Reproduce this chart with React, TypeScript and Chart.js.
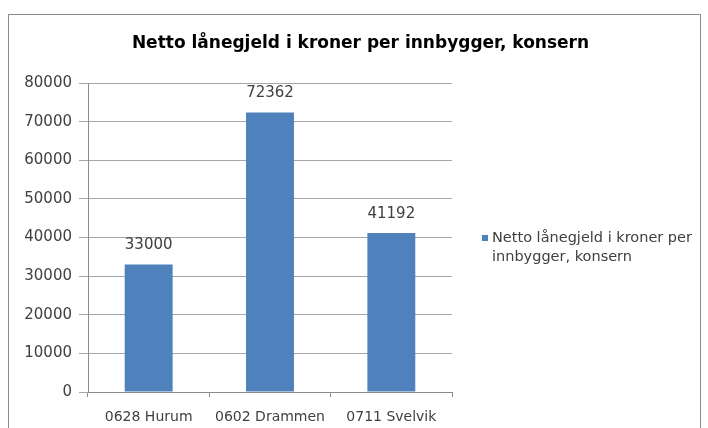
import React, { useEffect, useRef } from "react";
import { Chart, registerables } from "chart.js";

Chart.register(...registerables);

const categories: string[] = ["0628 Hurum", "0602 Drammen", "0711 Svelvik"];
const seriesName = "Netto lånegjeld i kroner per innbygger, konsern";
const values: number[] = [33000, 72362, 41192];
const legendLines: string[] = ["Netto lånegjeld i kroner per", "innbygger, konsern"];
const titleText = "Netto lånegjeld i kroner per innbygger, konsern";

const FONT = "'DejaVu Sans', sans-serif";
const BAR_COLOR = "#4F81BD";
const TEXT_COLOR = "#404040";

const decorPlugin = {
  id: "decor",
  beforeDraw(chart: any) {
    const ctx = chart.ctx;
    ctx.save();
    ctx.fillStyle = "#ffffff";
    ctx.fillRect(0, 0, chart.width, chart.height);
    ctx.strokeStyle = "#8c8c8c";
    ctx.lineWidth = 1;
    ctx.strokeRect(8.5, 14.5, 692, 430);
    ctx.restore();
  },
  afterDraw(chart: any) {
    const ctx = chart.ctx;
    ctx.save();
    // title
    ctx.fillStyle = "#000000";
    ctx.font = `bold 17px ${FONT}`;
    ctx.textAlign = "center";
    ctx.textBaseline = "middle";
    ctx.fillText(titleText, 360.5, 44);
    // data labels
    const meta = chart.getDatasetMeta(0);
    ctx.font = `15px ${FONT}`;
    ctx.fillStyle = TEXT_COLOR;
    ctx.textBaseline = "middle";
    meta.data.forEach((bar: any, i: number) => {
      ctx.fillText(String(values[i]), bar.x, bar.y - 19);
    });
    // legend
    ctx.fillStyle = BAR_COLOR;
    ctx.fillRect(482, 235, 6, 6);
    ctx.fillStyle = TEXT_COLOR;
    ctx.font = `14.5px ${FONT}`;
    ctx.textAlign = "left";
    ctx.textBaseline = "alphabetic";
    legendLines.forEach((line, i) => {
      ctx.fillText(line, 492, 242 + i * 19);
    });
    ctx.restore();
  },
};

export default function App() {
  const ref = useRef<HTMLCanvasElement | null>(null);
  useEffect(() => {
    if (!ref.current) return;
    const chart = new Chart(ref.current, {
      type: "bar",
      data: {
        labels: categories,
        datasets: [
          {
            label: seriesName,
            data: values,
            backgroundColor: BAR_COLOR,
            barPercentage: 0.79,
            categoryPercentage: 0.5,
          },
        ],
      },
      options: {
        responsive: false,
        animation: false,
        layout: { padding: { left: 0, top: 83, right: 256, bottom: 0 } },
        plugins: {
          legend: { display: false },
          title: { display: false },
          tooltip: { enabled: false },
        },
        scales: {
          x: {
            afterFit: (s: any) => {
              s.height = 36;
            },
            grid: {
              display: true,
              offset: true,
              drawOnChartArea: false,
              drawTicks: true,
              tickLength: 5,
              color: "#8c8c8c",
            },
            border: { display: true, color: "#8c8c8c" },
            ticks: {
              color: TEXT_COLOR,
              font: { family: FONT, size: 14 },
              padding: 12,
              maxRotation: 0,
            },
          },
          y: {
            min: 0,
            max: 80000,
            afterFit: (s: any) => {
              s.width = 88;
            },
            grid: {
              color: "#a6a6a6",
              drawTicks: true,
              tickLength: 9,
            },
            border: { display: true, color: "#8c8c8c" },
            ticks: {
              stepSize: 10000,
              color: TEXT_COLOR,
              font: { family: FONT, size: 15 },
              padding: 7,
              callback: (v: any) => String(v),
            },
          },
        },
      },
      plugins: [decorPlugin],
    });
    return () => chart.destroy();
  }, []);
  return (
    <div style={{ position: "absolute", left: 0, top: 0, width: 708, height: 428 }}>
      <canvas ref={ref} width={708} height={428} style={{ display: "block" }} />
    </div>
  );
}
